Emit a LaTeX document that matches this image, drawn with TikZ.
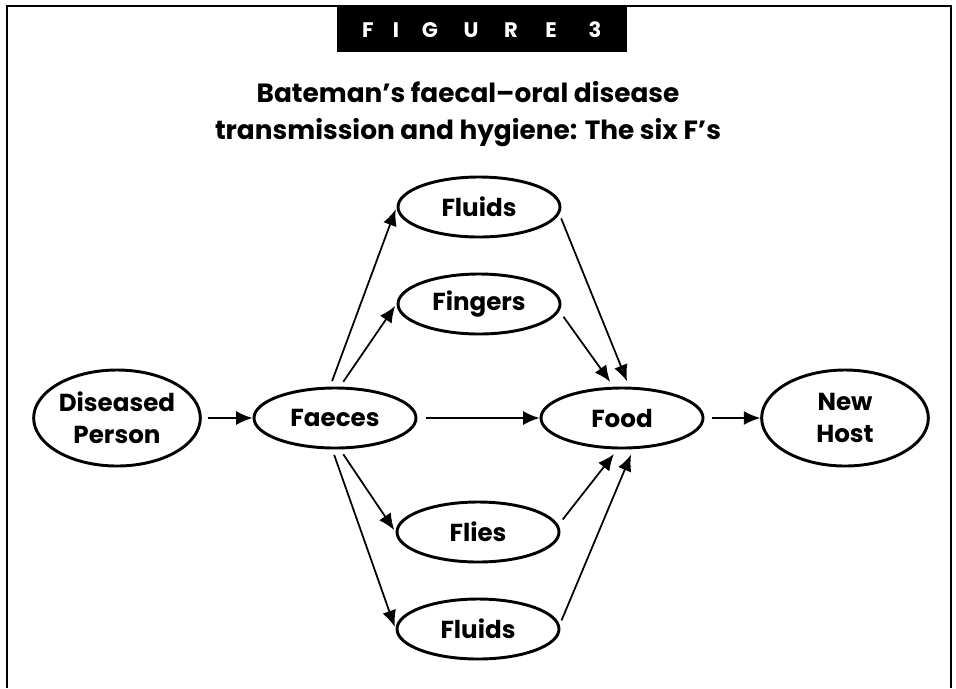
\documentclass[tikz,border=0pt]{standalone}
\usepackage{fontspec}
\setmainfont{Poppins}
\usetikzlibrary{shapes.geometric, arrows.meta}

\newcommand{\blobfont}{\bfseries\fontsize{21}{27}\selectfont}
\tikzset{
    blob/.style={ellipse, draw, line width=2.5pt, minimum width=4.86cm, minimum height=1.8cm, inner sep=0pt, font=\blobfont},
    bigblob/.style={blob, minimum width=5cm, minimum height=2.88cm, align=center},
    flow/.style={-{Latex[length=14pt, width=12pt]}, line width=1.5pt},
    bannerletter/.style={text=white, font=\bfseries\fontsize{18}{18}\selectfont},
}

\begin{document}
\begin{tikzpicture}[x=0.03cm, y=-0.03cm]
    \useasboundingbox (0,0) rectangle (956,688);

    % frame, open at the bottom
    \draw[line width=1.6pt] (7,688) -- (7,6) -- (951,6) -- (951,688);

    % banner and title
    \fill (337,7) rectangle (627,52);
    \foreach \l/\x in {F/368, I/396, G/430, U/471, R/511, E/551, 3/595}
        \node[bannerletter] (banner-\l) at (\x,30) {\l};
    \node[font=\bfseries\fontsize{22.5}{31.5}\selectfont, align=center] (title) at (468,114) {Bateman’s faecal–oral disease\\transmission and hygiene: The six F’s};

    % nodes
    \node[bigblob] (ill) at (117,418) {Diseased\\Person};
    \node[blob] (faeces) at (335,418) {Faeces};
    \node[blob] (food) at (622,418) {Food};
    \node[bigblob] (host) at (845,418) {New\\Host};

    \node[blob] (fluidsA) at (479,207) {Fluids};
    \node[blob] (fingers) at (479,304) {Fingers};
    \node[blob] (flies) at (478,532) {Flies};
    \node[blob] (fluidsB) at (478,629) {Fluids};

    % main chain
    \draw[flow, shorten <=5pt] (ill) -- (faeces);
    \draw[flow, shorten <=7pt] (faeces) -- (food);
    \draw[flow, shorten <=6pt] (food) -- (host);

    % faeces to the four F's
    \draw[flow, shorten <=5pt, shorten >=2pt] (faeces.99) -- (fluidsA.west);
    \draw[flow, shorten <=5pt, shorten >=2pt] (faeces.81) -- (fingers.west);
    \draw[flow, shorten <=5pt, shorten >=2pt] (faeces.279) -- (flies.west);
    \draw[flow, shorten <=5pt, shorten >=2pt] (faeces.265) -- (fluidsB.west);

    % the four F's to food
    \draw[flow, shorten <=4pt, shorten >=5pt] (fluidsA.-5) -- (food.77);
    \draw[flow, shorten <=6pt, shorten >=5pt] (fingers.-5) -- (food.105);
    \draw[flow, shorten <=6pt, shorten >=5pt] (flies.5) -- (food.262);
    \draw[flow, shorten <=4pt, shorten >=5pt] (fluidsB.3) -- (food.290);
\end{tikzpicture}
\end{document}
